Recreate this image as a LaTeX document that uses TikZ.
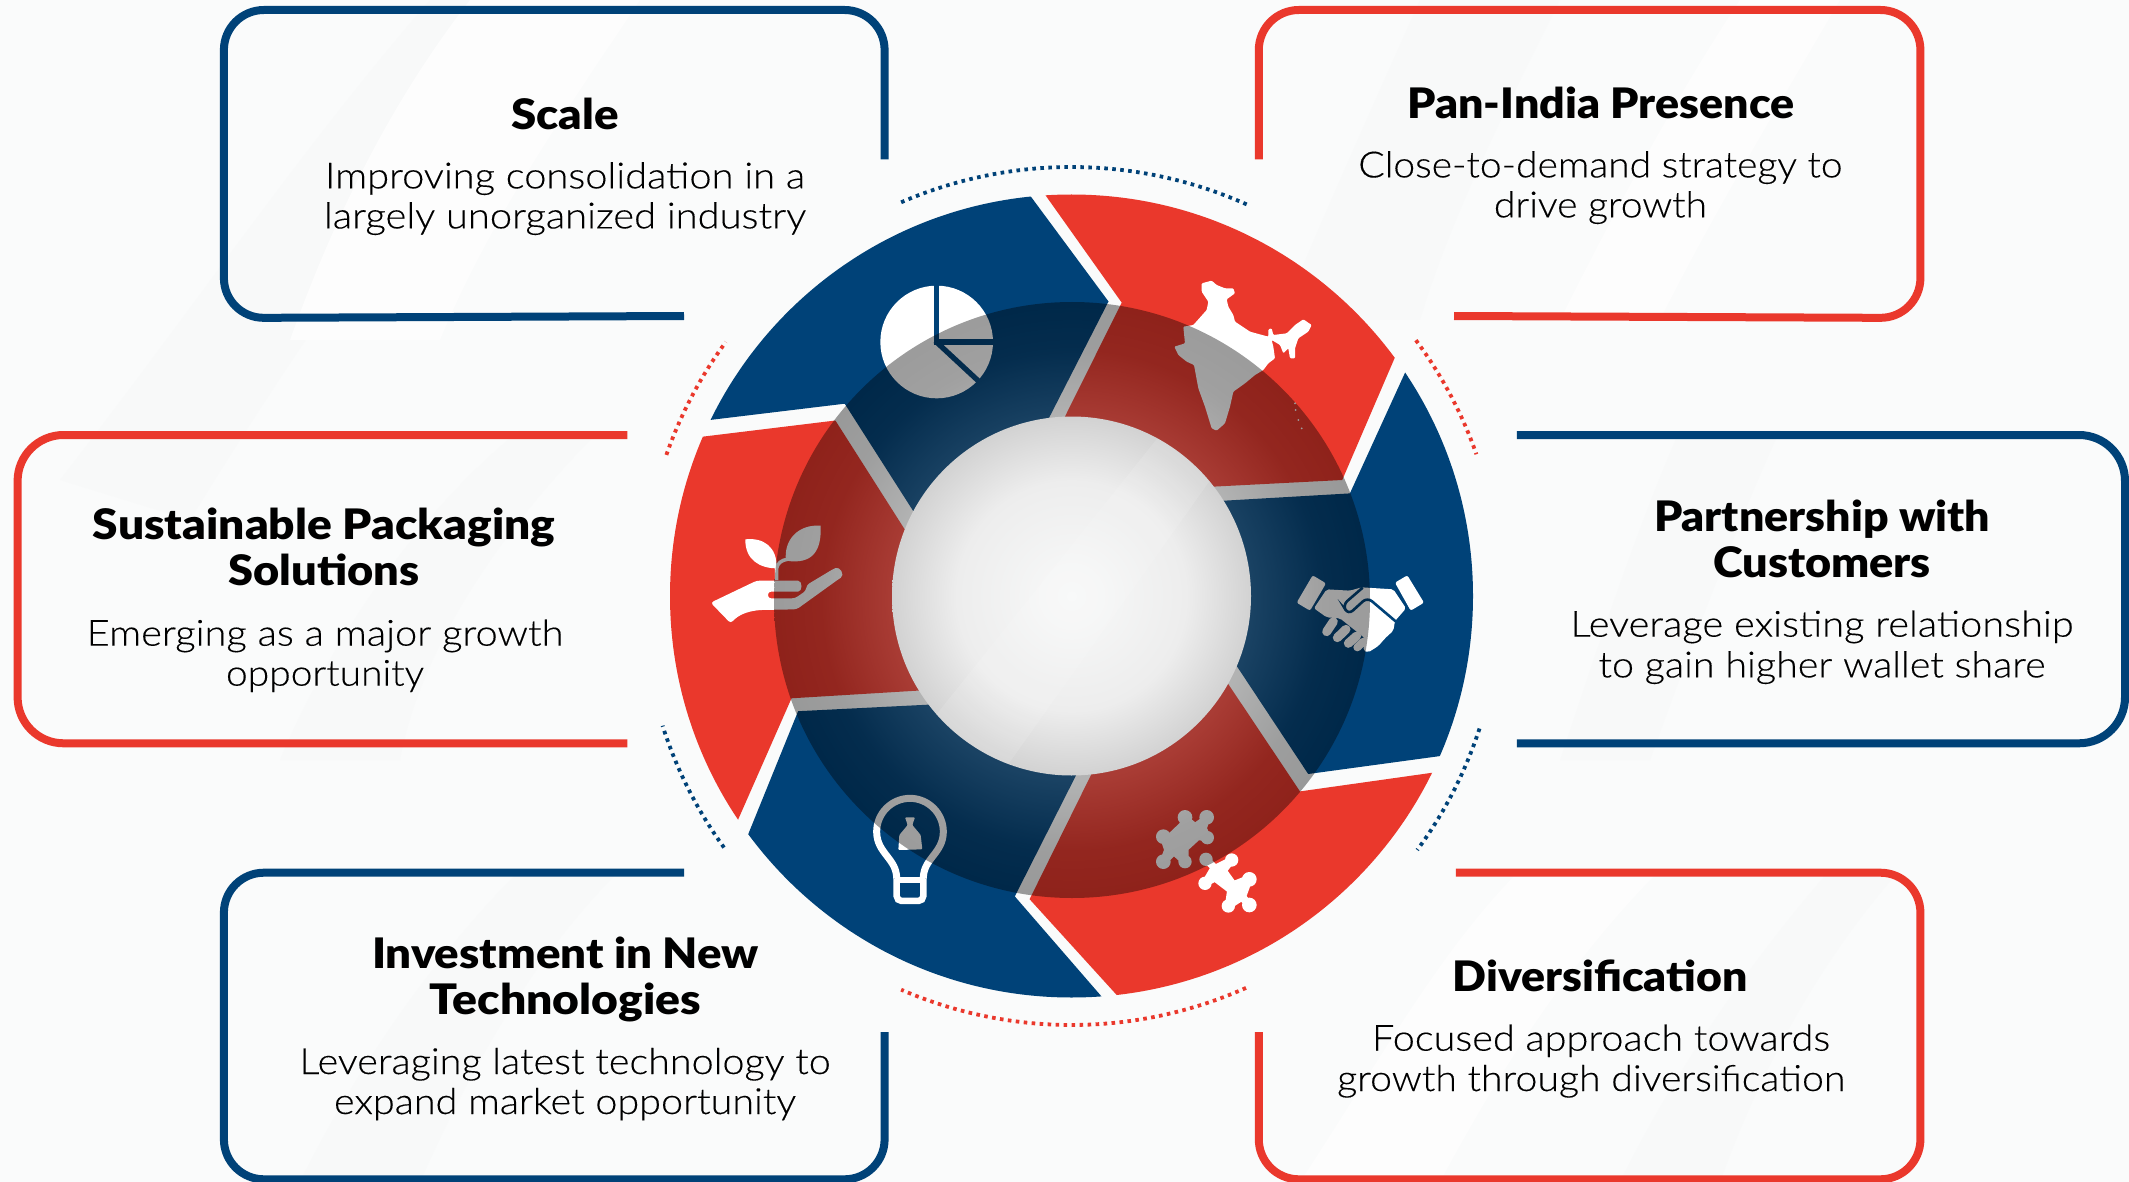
\documentclass[tikz,border=0pt]{standalone}
\usepackage{fontspec}
\usetikzlibrary{calc}
\setmainfont{Lato}[UprightFont={* Light},UprightFeatures={FakeBold=0.25},BoldFont={* Black}]
\definecolor{nblue}{HTML}{004278}
\definecolor{nred}{HTML}{EA382C}
\definecolor{bgbase}{HTML}{FAFBFB}
\definecolor{bgdark}{HTML}{F8F9F9}
\definecolor{bglight}{HTML}{FDFDFD}
\definecolor{ringmid}{HTML}{444444}
\definecolor{ringdeep}{HTML}{0C0C0C}
\definecolor{d0}{HTML}{F8F9F9}
\definecolor{d1}{HTML}{EDEDED}
\definecolor{d2}{HTML}{D2D2D2}
\pgfdeclareradialshading{ringshade}{\pgfpoint{0bp}{0bp}}{color(0bp)=(ringmid); color(15bp)=(ringmid); color(21bp)=(ringdeep); color(25bp)=(black); color(50bp)=(black)}
\pgfdeclareradialshading{discshade}{\pgfpoint{0bp}{0bp}}{color(0bp)=(d0); color(16bp)=(d1); color(25bp)=(d2); color(50bp)=(d2)}
\newcommand{\tline}[4]{\resizebox{#1pt}{\height}{\fontsize{#2}{#2}\selectfont #4#3}}
\tikzset{
  x=1pt,y=-1pt,
  boxline/.style={line width=8pt,rounded corners=40pt},
  wideround/.style={line width=8pt,rounded corners=46pt},
  txt/.style={anchor=base,inner sep=0pt,outer sep=0pt,text=black,yshift=-1.7pt},
  dots/.style={line width=3.8pt,dash pattern=on 3.6pt off 4.4pt},
  zoomA/.style={x=.33333pt,y=-.33333pt},
  jigsaw/.style={draw=white,fill=white,line width=7pt,line join=round}
}
\begin{document}
\begin{tikzpicture}
\useasboundingbox (0,0) rectangle (2129,1182);
\clip (0,0) rectangle (2129,1182);
\fill[bgbase] (0,0) rectangle (2129,1182);
% faint background sweeps
\fill[bgdark] (60,480) .. controls (200,300) and (300,150) .. (430,0) -- (560,0) .. controls (420,170) and (300,340) .. (190,520) -- cycle;
\fill[bglight] (290,340) .. controls (340,200) and (400,90) .. (470,0) -- (640,0) .. controls (560,120) and (490,220) .. (440,340) -- cycle;
\fill[bgdark] (1280,320) .. controls (1330,200) and (1380,90) .. (1420,0) -- (1560,0) .. controls (1500,120) and (1450,220) .. (1420,320) -- cycle;
\fill[bglight] (1560,320) .. controls (1620,200) and (1680,90) .. (1740,0) -- (1840,0) .. controls (1770,120) and (1710,220) .. (1660,320) -- cycle;
\fill[bgdark] (1560,760) .. controls (1600,640) and (1640,520) .. (1680,430) -- (1780,430) .. controls (1730,540) and (1690,650) .. (1650,760) -- cycle;
\fill[bgdark] (280,760) .. controls (330,640) and (420,510) .. (520,430) -- (600,430) .. controls (500,530) and (420,650) .. (400,760) -- cycle;
\fill[bglight] (1300,1182) .. controls (1380,1060) and (1440,950) .. (1520,870) -- (1660,870) .. controls (1570,960) and (1500,1070) .. (1440,1182) -- cycle;
\fill[bgdark] (1620,1182) .. controls (1680,1060) and (1760,950) .. (1830,870) -- (1900,870) .. controls (1820,960) and (1760,1070) .. (1720,1182) -- cycle;
\fill[bgdark] (300,1182) .. controls (360,1060) and (440,950) .. (520,870) -- (620,870) .. controls (530,960) and (470,1070) .. (420,1182) -- cycle;

% six text frames
\draw[nblue,boxline] (884.6,159.3) -- (884.6,10) -- (223.9,10) -- (223.9,318) -- (684,316);
\draw[nred,boxline] (1258.8,159.3) -- (1258.8,10) -- (1920.4,10) -- (1920.4,318) -- (1454,316);
\draw[nred,wideround] (627.3,435) -- (17.6,435) -- (17.6,743.3) -- (627.3,743.3);
\draw[nblue,wideround] (1516.8,435) -- (2125,435) -- (2125,743.3) -- (1516.8,743.3);
\draw[nblue,boxline] (684,872.7) -- (223.9,872.7) -- (223.9,1179.3) -- (884.6,1179.3) -- (884.6,1032);
\draw[nred,boxline] (1455.8,872.7) -- (1920.4,872.7) -- (1920.4,1179.3) -- (1258.8,1179.3) -- (1258.8,1032);

% dotted arcs
\coordinate (cc) at (1071.5,596);
\draw[nblue,dots] plot[domain=-113.4:-65.9,samples=60] ({1071.5+429*cos(\x)},{596+429*sin(\x)});
\draw[nred,dots] plot[domain=66:113.4,samples=60] ({1071.5+429*cos(\x)},{596+429*sin(\x)});
\draw[nred,dots] plot[domain=199.2:216.3,samples=30] ({1071.5+429*cos(\x)},{596+429*sin(\x)});
\draw[nred,dots] plot[domain=-36.6:-19.3,samples=30] ({1071.5+429*cos(\x)},{596+429*sin(\x)});
\draw[nblue,dots] plot[domain=144.1:162.4,samples=30] ({1071.5+429*cos(\x)},{596+429*sin(\x)});
\draw[nblue,dots] plot[domain=18:36.3,samples=30] ({1071.5+429*cos(\x)},{596+429*sin(\x)});

% wheel segments
\coordinate (a1) at (714.7,419.4); \coordinate (a2) at (1029.6,194.9); \coordinate (a3) at (1108.5,301.5);
\coordinate (a4) at (1048.8,418.3); \coordinate (a5) at (914.9,513.7); \coordinate (a6) at (844.7,403.7);
\coordinate (b1) at (1046,196); \coordinate (b2) at (1394.3,358.8); \coordinate (b3) at (1342.2,480);
\coordinate (b4) at (1212.2,486.7); \coordinate (b5) at (1064.1,418.3); \coordinate (b6) at (1121.7,302.6);
\coordinate (d1p) at (1404.7,373.4); \coordinate (d2p) at (1439.8,756.1); \coordinate (d3p) at (1308.2,774);
\coordinate (d4p) at (1235.8,664.6); \coordinate (d5p) at (1222.1,500.8); \coordinate (d6p) at (1349.9,493.4);
\coordinate (e1) at (1431.1,772.9); \coordinate (e2) at (1117.9,996.3); \coordinate (e3) at (1029.6,899.2);
\coordinate (e4) at (1091.5,774); \coordinate (e5) at (1227.6,683.1); \coordinate (e6) at (1300,791.4);
\coordinate (f1) at (1101.4,996.3); \coordinate (f2) at (748.7,833); \coordinate (f3) at (798.1,711.2);
\coordinate (f4) at (931.4,704.5); \coordinate (f5) at (1076.7,774); \coordinate (f6) at (1014.8,896.4);
\coordinate (g1) at (738.9,817.8); \coordinate (g2) at (706.5,436.2); \coordinate (g3) at (835.4,420.5);
\coordinate (g4) at (906.1,531.6); \coordinate (g5) at (921.5,690.4); \coordinate (g6) at (791.5,698.3);
\begin{scope}
\clip (cc) circle (401.5);
\fill[nblue] (a3) -- ($(a3)!2!(a2)$) -- (300,-200) -- ($(a6)!2!(a1)$) -- (a6) -- (a5) -- (a4) -- cycle;
\fill[nred] (b6) -- ($(b6)!2!(b1)$) -- (1800,-200) -- ($(b3)!2!(b2)$) -- (b3) -- (b4) -- (b5) -- cycle;
\fill[nblue] (d6p) -- ($(d6p)!2!(d1p)$) -- (2000,500) -- ($(d3p)!2!(d2p)$) -- (d3p) -- (d4p) -- (d5p) -- cycle;
\fill[nred] (e6) -- ($(e6)!2!(e1)$) -- (1700,1500) -- ($(e3)!2!(e2)$) -- (e3) -- (e4) -- (e5) -- cycle;
\fill[nblue] (f6) -- ($(f6)!2!(f1)$) -- (500,1500) -- ($(f3)!2!(f2)$) -- (f3) -- (f4) -- (f5) -- cycle;
\fill[nred] (g6) -- ($(g6)!2!(g1)$) -- (200,600) -- ($(g3)!2!(g2)$) -- (g3) -- (g4) -- (g5) -- cycle;
\end{scope}

% pie icon
\begin{scope}[shift={(850,260)},zoomA]
\fill[white] (260,246) circle (169);
\draw[nblue,line width=5.3pt] (260,60) -- (260,246) -- (440,246);
\draw[nblue,line width=5.3pt] (256,243) -- (395,372);
% India
\fill[white,rounded corners=1pt] (1055,70) -- (1085,62) -- (1100,75) -- (1125,85) -- (1150,85) -- (1155,100) -- (1130,118) -- (1135,140) -- (1150,165) -- (1155,185) -- (1200,215) -- (1255,230) -- (1255,208) -- (1265,205) -- (1270,225) -- (1310,220) -- (1335,195) -- (1360,178) -- (1385,195) -- (1375,215) -- (1345,235) -- (1335,265) -- (1335,295) -- (1320,295) -- (1315,265) -- (1300,280) -- (1290,255) -- (1265,240) -- (1270,260) -- (1275,295) -- (1255,310) -- (1240,330) -- (1215,345) -- (1185,370) -- (1150,395) -- (1140,440) -- (1125,490) -- (1100,512) -- (1085,505) -- (1065,440) -- (1045,385) -- (1032,315) -- (1010,305) -- (985,285) -- (973,260) -- (1005,250) -- (1000,200) -- (1030,195) -- (1070,150) -- (1075,125) -- (1055,95) -- cycle;
\fill[white] (1335,430) circle (3) (1337,450) circle (3) (1345,480) circle (3) (1355,505) circle (3);
\end{scope}

% plant and hand, bulb
\begin{scope}[shift={(680,500)},zoomA]
\fill[white] (196,118) .. controls (250,112) and (292,140) .. (290,205) .. controls (240,205) and (195,180) .. (196,118) -- cycle;
\fill[white] (422,77) .. controls (355,72) and (310,120) .. (318,182) .. controls (400,195) and (425,150) .. (422,77) -- cycle;
\draw[white,line width=3.5pt] (290,240) -- (290,205) .. controls (292,190) and (305,180) .. (322,178);
\fill[white,rounded corners=3pt] (92,308) -- (230,242) -- (345,242) .. controls (368,242) and (368,275) .. (345,275) -- (264,275) -- (264,295) -- (345,295) -- (378,272) -- (380,255) -- (458,208) .. controls (480,198) and (495,225) .. (475,238) -- (350,328) -- (240,330) .. controls (200,335) and (175,345) .. (152,370) -- cycle;
% bulb
\draw[white,line width=7pt,line join=round] (650,1135) .. controls (650,1075) and (590,1060) .. (590,995) .. controls (590,940) and (635,895) .. (690,895) .. controls (745,895) and (790,940) .. (790,995) .. controls (790,1060) and (730,1075) .. (730,1135);
\draw[white,line width=6.5pt,rounded corners=5pt] (650,1135) -- (650,1203) -- (730,1203) -- (730,1135);
\draw[white,line width=6pt] (645,1141) -- (735,1141);
\fill[white,rounded corners=1pt] (675,952) -- (705,952) -- (697,975) -- (722,1005) -- (727,1048) -- (655,1050) -- (658,1005) -- (683,975) -- cycle;
\end{scope}

% handshake and puzzle
\begin{scope}[shift={(1100,540)},zoomA]
\fill[white,rounded corners=2pt] (638,106) -- (678,130) -- (630,212) -- (590,188) -- cycle;
\fill[white,rounded corners=2pt] (922,106) -- (885,128) -- (932,212) -- (972,188) -- cycle;
\fill[white,rounded corners=2pt] (680,148) -- (750,152) -- (785,142) -- (880,148) -- (918,205) -- (885,243) -- (880,272) -- (855,295) -- (835,318) -- (805,337) -- (790,332) -- (795,295) -- (720,235) -- (680,232) -- (642,205) -- cycle;
\draw[nblue,line width=2.6pt,rounded corners=6pt] (788,143) -- (728,195) -- (745,224) -- (802,172) -- (888,245);
\draw[white,line width=9pt,line cap=round] (700,245) -- (680,275);
\draw[white,line width=9pt,line cap=round] (738,268) -- (712,293);
\draw[white,line width=9pt,line cap=round] (770,288) -- (745,310);
\draw[white,line width=8pt,line cap=round] (790,305) -- (772,322);
\path[jigsaw] (255,835) -- (285,860) -- (320,835) -- (310,865) -- (322,893) -- (293,890) -- (255,925) -- (255,965) -- (222,935) -- (190,965) -- (203,930) -- (190,890) -- (208,893) -- (248,855) -- cycle;
\fill[white] (255,832) circle (22) (320,832) circle (22) (190,890) circle (22) (190,965) circle (22) (322,893) circle (20) (255,965) circle (20);
\path[jigsaw] (318,958) -- (345,985) -- (395,960) -- (370,992) -- (400,1034) -- (448,1015) -- (428,1070) -- (448,1095) -- (425,1072) -- (385,1098) -- (392,1050) -- (345,1014) -- (315,1030) -- (343,982) -- cycle;
\fill[white] (318,958) circle (20) (395,960) circle (20) (448,1018) circle (22) (448,1095) circle (22) (385,1098) circle (20) (315,1030) circle (20);
\end{scope}

% translucent ring and central disc
\shade[shading=ringshade,opacity=.39] (1072,600) circle (298);
\shade[shading=discshade] (cc) circle (179.5);
\begin{scope}
\clip (cc) circle (179.5);
\fill[white,opacity=.12] (900,760) -- (1180,410) -- (1260,410) -- (990,790) -- cycle;
\end{scope}

% text
\node[txt] (t1) at (565,127.7) {\tline{107.4}{42}{Scale}{\bfseries}};
\node[txt] (t1a) at (565,186.7) {\tline{480}{36}{Improving consolidation in a}{}};
\node[txt] (t1b) at (565,226.7) {\tline{482}{36}{largely unorganized industry}{}};
\node[txt] (t2) at (1601,116.7) {\tline{387}{42}{Pan-India Presence}{\bfseries}};
\node[txt] (t2a) at (1600.4,175.7) {\tline{484}{36}{Close-to-demand strategy to}{}};
\node[txt] (t2b) at (1600.4,215.7) {\tline{213}{36}{drive growth}{}};
\node[txt] (t3) at (324,537.3) {\tline{462}{42}{Sustainable Packaging}{\bfseries}};
\node[txt] (t3x) at (324,583.3) {\tline{191}{42}{Solutions}{\bfseries}};
\node[txt] (t3a) at (325,644) {\tline{476.7}{36}{Emerging as a major growth}{}};
\node[txt] (t3b) at (325,684) {\tline{198}{36}{opportunity}{}};
\node[txt] (t4) at (1822,529.3) {\tline{336}{42}{Partnership with}{\bfseries}};
\node[txt] (t4x) at (1822,575.7) {\tline{217.8}{42}{Customers}{\bfseries}};
\node[txt] (t4a) at (1822,635) {\tline{503}{36}{Leverage existing relationship}{}};
\node[txt] (t4b) at (1822,675.7) {\tline{447}{36}{to gain higher wallet share}{}};
\node[txt] (t5) at (565.5,966.7) {\tline{387}{42}{Investment in New}{\bfseries}};
\node[txt] (t5x) at (565.5,1012.7) {\tline{271}{42}{Technologies}{\bfseries}};
\node[txt] (t5a) at (565,1072.3) {\tline{531}{36}{Leveraging latest technology to}{}};
\node[txt] (t5b) at (565,1112.3) {\tline{462}{36}{expand market opportunity}{}};
\node[txt] (t6) at (1600,990) {\tline{295}{42}{Diversification}{\bfseries}};
\node[txt] (t6a) at (1601,1049) {\tline{458}{36}{Focused approach towards}{}};
\node[txt] (t6b) at (1591.2,1089.3) {\tline{508}{36}{growth through diversification}{}};
\end{tikzpicture}
\end{document}
